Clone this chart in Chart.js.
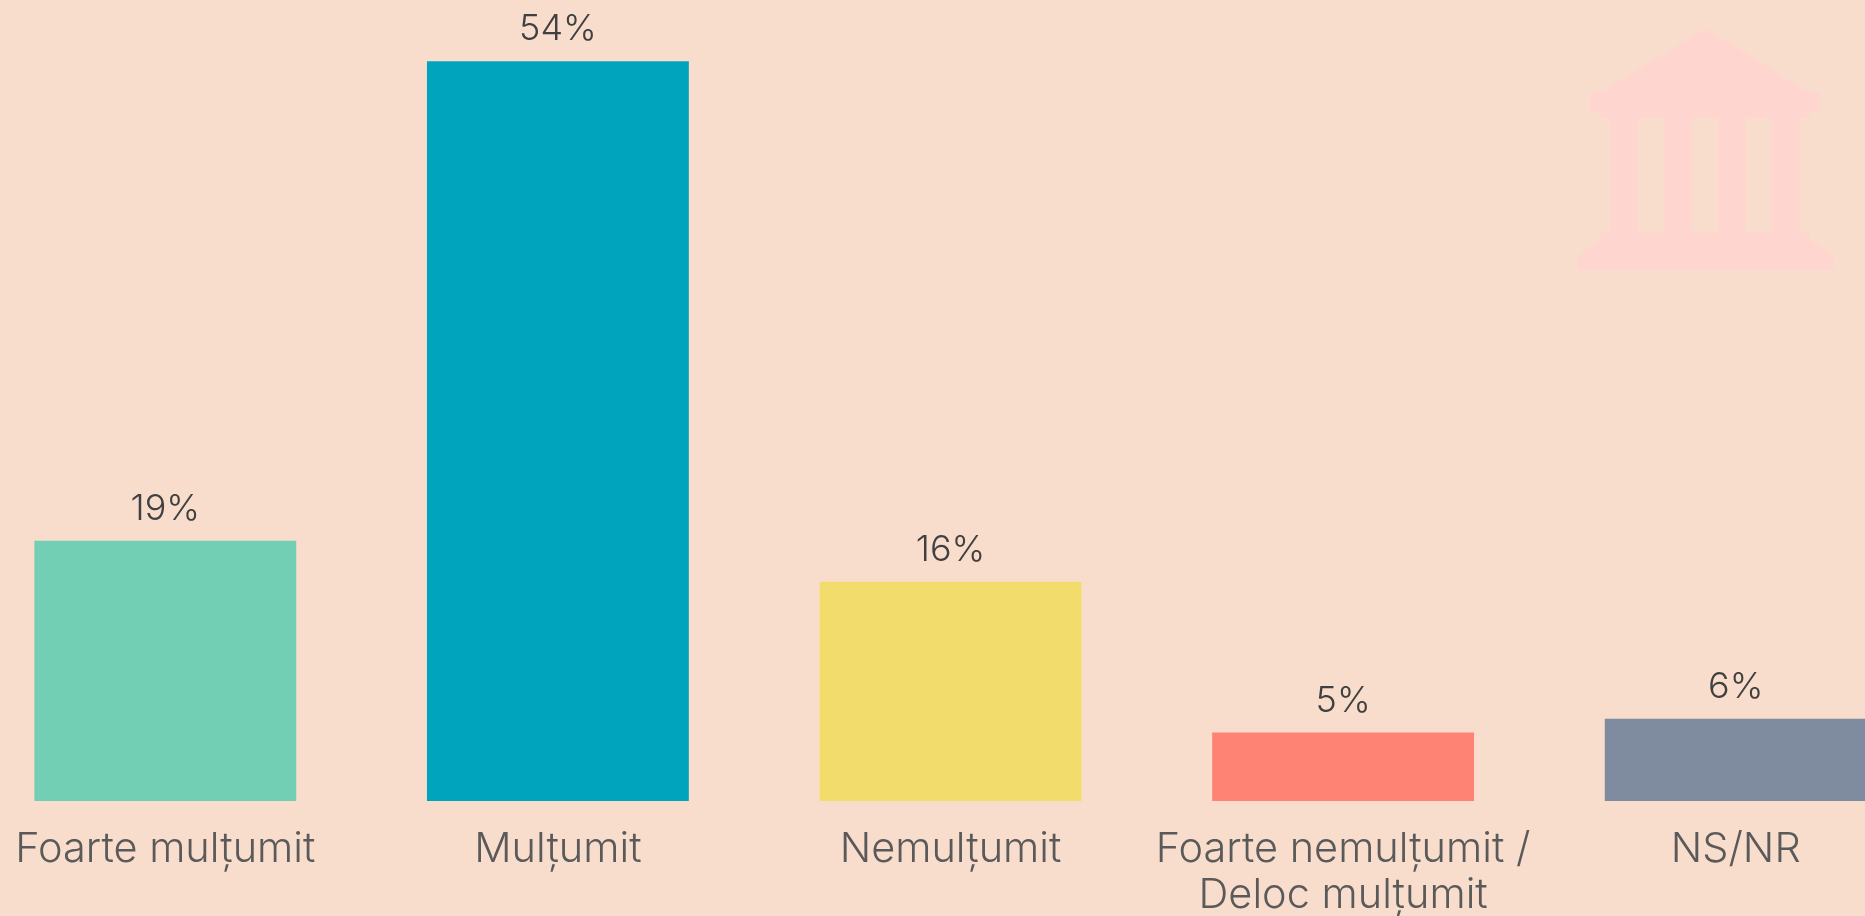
<!DOCTYPE html>
<html lang="ro">
<head>
<meta charset="utf-8">
<title>Grad de multumire</title>
<script src="https://cdn.jsdelivr.net/npm/chart.js@4"></script>
<style>
  html, body { margin: 0; padding: 0; width: 1865px; height: 916px; overflow: hidden; background: #f9ddcc; }
  #surveyChart { position: absolute; left: -31px; top: 0; }
  #buildingIcon { position: absolute; left: 1540px; top: 0; }
</style>
</head>
<body>
<svg id="buildingIcon" width="325" height="300" viewBox="0 0 975 900" aria-hidden="true">
  <path fill="#ffd5cf" fill-rule="evenodd" d="M495 85 L805 275 H840 V335 H808 V355 H780 V698 H808 V718 L880 768 V810 H112 V768 L182 718 V698 H212 V355 H182 V335 H152 V275 H185 Z
    M294 355 V698 H373 V355 Z M456 355 V698 H536 V355 Z M617 355 V698 H696 V355 Z"/>
</svg>
<canvas id="surveyChart" width="1963" height="916"></canvas>
<script>
const categories = [
  "Foarte mulțumit",
  "Mulțumit",
  "Nemulțumit",
  ["Foarte nemulțumit /", "Deloc mulțumit"],
  "NS/NR",
];
const percentages = [19, 54, 16, 5, 6];
const barColors = ["#73cfb4", "#00a5bd", "#f2dc6b", "#ff8375", "#7f8b9e"];

const FONT_FAMILY = "Inter, 'Open Sans', sans-serif";

// Chart.js has no data labels built in, so draw them from the bar elements
const valueLabels = {
  id: "valueLabels",
  afterDatasetsDraw(chart) {
    const ctx = chart.ctx;
    const bars = chart.getDatasetMeta(0).data;
    ctx.save();
    ctx.font = `300 36px ${FONT_FAMILY}`;
    ctx.fillStyle = "#404040";
    ctx.textAlign = "center";
    ctx.textBaseline = "alphabetic";
    bars.forEach((bar, i) => {
      ctx.fillText(`${percentages[i]}%`, bar.x, bar.y - 21);
    });
    ctx.restore();
  },
};

new Chart(document.getElementById("surveyChart"), {
  type: "bar",
  data: {
    labels: categories,
    datasets: [
      {
        data: percentages,
        backgroundColor: barColors,
        categoryPercentage: 1,
        barPercentage: 0.667,
      },
    ],
  },
  options: {
    responsive: false,
    animation: false,
    layout: { padding: 0 },
    plugins: { legend: { display: false }, tooltip: { enabled: false } },
    scales: {
      x: {
        grid: { display: false },
        border: { display: false },
        ticks: {
          color: "#5a5a5a",
          font: { family: FONT_FAMILY, size: 41.5, weight: "300", lineHeight: "46px" },
          padding: 18,
          autoSkip: false,
          maxRotation: 0,
          minRotation: 0,
        },
        afterFit(scale) {
          scale.height = 115;
        },
      },
      y: { display: false, min: 0, max: 58.47 },
    },
  },
  plugins: [valueLabels],
});
</script>
</body>
</html>
